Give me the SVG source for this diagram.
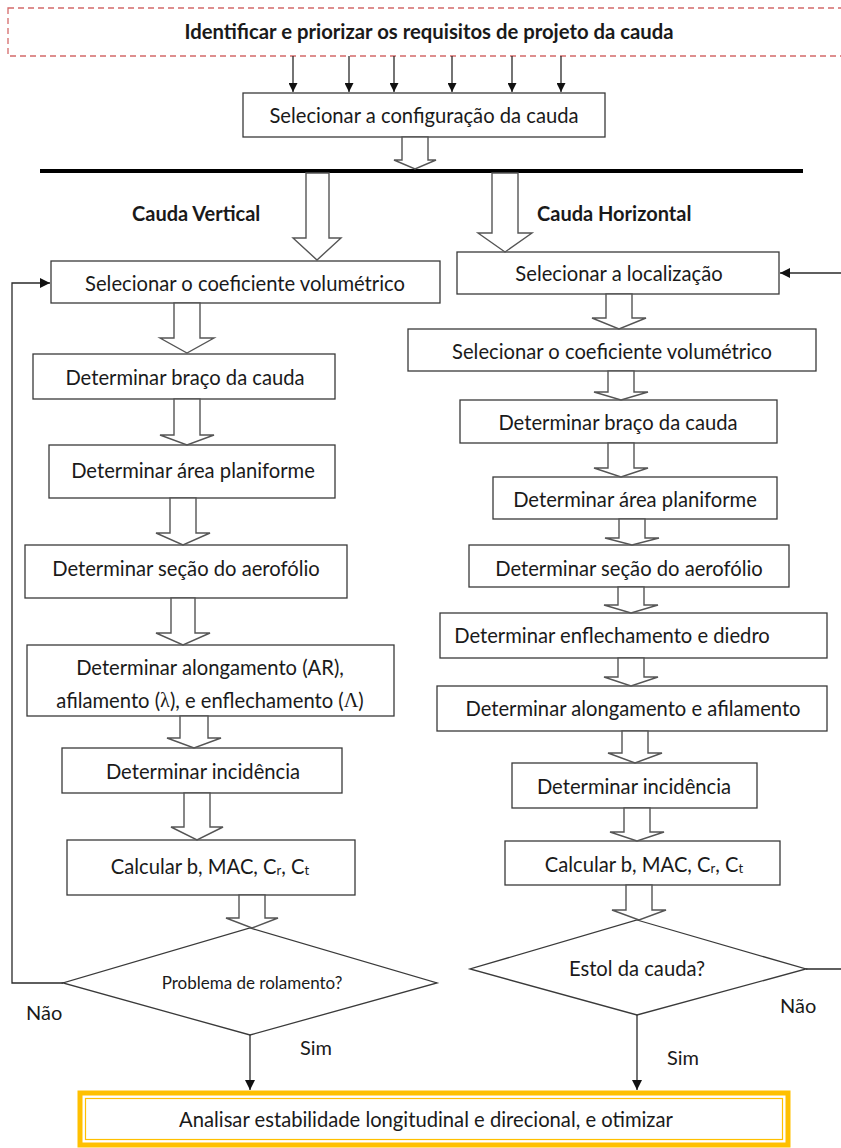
<svg xmlns="http://www.w3.org/2000/svg" width="841" height="1148" viewBox="0 0 841 1148">
  <style>
    text { font-family: Lato, "Liberation Sans", sans-serif; fill: #1a1a1a; }
    .t { font-size: 20.2px; text-anchor: middle; dominant-baseline: central; }
    .b { font-weight: bold; }
    .box { fill: #ffffff; stroke: #3a3a3a; stroke-width: 1.3; }
    .hollow { fill: #ffffff; stroke: #555555; stroke-width: 1.4; stroke-linejoin: miter; }
    .line { fill: none; stroke: #2a2a2a; stroke-width: 1.3; }
    .sym { font-family: "Liberation Serif", serif; }
    .sub { font-size: 13px; }
    .lbl { font-size: 20px; }
  </style>
  <defs>
    <marker id="ah" viewBox="0 0 10 10" refX="10" refY="5" markerWidth="9" markerHeight="9" markerUnits="userSpaceOnUse" orient="auto">
      <path d="M0,0 L10,5 L0,10 z" fill="#111111"/>
    </marker>
    <marker id="ahs" viewBox="0 0 10 10" refX="10" refY="5" markerWidth="10" markerHeight="12" markerUnits="userSpaceOnUse" orient="auto">
      <path d="M0,0 L10,5 L0,10 z" fill="#111111"/>
    </marker>
  </defs>
  <rect width="841" height="1148" fill="#ffffff"/>

  <!-- requirements banner -->
  <g id="requisitos">
    <rect x="8" y="8" width="845" height="48" fill="none" stroke="#d46a6a" stroke-width="1.3" stroke-dasharray="6,4"/>
    <text class="t b" x="429" y="31" style="font-size:20.3px">Identificar e priorizar os requisitos de projeto da cauda</text>
  </g>

  <g id="configuracao">
    <rect class="box" x="243" y="93" width="362" height="44"/>
    <text class="t" x="424" y="115">Selecionar a configuração da cauda</text>
  </g>

  <!-- split bar -->
  <g id="barra">
    <rect x="40" y="169" width="763" height="4" fill="#000000"/>
  </g>

  <g id="rotulos">
    <text class="b lbl" x="132" y="221">Cauda Vertical</text>
    <text class="b lbl" x="537" y="221">Cauda Horizontal</text>
  </g>

  <!-- vertical tail branch -->
  <g id="v1">
    <rect class="box" x="51" y="261" width="389" height="42"/>
    <text class="t" x="245" y="283">Selecionar o coeficiente volumétrico</text>
  </g>
  <g id="v2">
    <rect class="box" x="33" y="354" width="302" height="45"/>
    <text class="t" x="185" y="377">Determinar braço da cauda</text>
  </g>
  <g id="v3">
    <rect class="box" x="49" y="445" width="286" height="53"/>
    <text class="t" x="193" y="470">Determinar área planiforme</text>
  </g>
  <g id="v4">
    <rect class="box" x="25" y="545" width="322" height="53"/>
    <text class="t" x="186" y="568">Determinar seção do aerofólio</text>
  </g>
  <g id="v5">
    <rect class="box" x="27" y="645" width="367" height="71"/>
    <text class="t" x="210" y="667">Determinar alongamento (AR),</text>
    <text class="t" x="210" y="700">afilamento (<tspan class="sym">λ</tspan>), e enflechamento (<tspan class="sym">Λ</tspan>)</text>
  </g>
  <g id="v6">
    <rect class="box" x="62" y="748" width="280" height="45"/>
    <text class="t" x="203" y="771">Determinar incidência</text>
  </g>
  <g id="v7">
    <rect class="box" x="67" y="840" width="288" height="55"/>
    <text class="t" x="210" y="866">Calcular b, MAC, C<tspan class="sub" dy="4">r</tspan><tspan dy="-4">, C</tspan><tspan class="sub" dy="4">t</tspan></text>
  </g>
  <g id="v-decisao">
    <polygon class="box" points="250,928 437,983 250,1035 63,983"/>
    <text class="t" x="252" y="982" style="font-size:17px">Problema de rolamento?</text>
  </g>

  <!-- horizontal tail branch -->
  <g id="h1">
    <rect class="box" x="457" y="252" width="322" height="42"/>
    <text class="t" x="619" y="273">Selecionar a localização</text>
  </g>
  <g id="h2">
    <rect class="box" x="408" y="329" width="408" height="42"/>
    <text class="t" x="612" y="351">Selecionar o coeficiente volumétrico</text>
  </g>
  <g id="h3">
    <rect class="box" x="460" y="400" width="317" height="43"/>
    <text class="t" x="618" y="422">Determinar braço da cauda</text>
  </g>
  <g id="h4">
    <rect class="box" x="493" y="477" width="284" height="42"/>
    <text class="t" x="635" y="499">Determinar área planiforme</text>
  </g>
  <g id="h5">
    <rect class="box" x="469" y="545" width="320" height="42"/>
    <text class="t" x="629" y="568">Determinar seção do aerofólio</text>
  </g>
  <g id="h6">
    <rect class="box" x="440" y="613" width="387" height="45"/>
    <text class="t" x="612" y="635">Determinar enflechamento e diedro</text>
  </g>
  <g id="h7">
    <rect class="box" x="437" y="686" width="390" height="45"/>
    <text class="t" x="633" y="708">Determinar alongamento e afilamento</text>
  </g>
  <g id="h8">
    <rect class="box" x="512" y="763" width="245" height="45"/>
    <text class="t" x="634" y="786">Determinar incidência</text>
  </g>
  <g id="h9">
    <rect class="box" x="505" y="841" width="275" height="44"/>
    <text class="t" x="644" y="864">Calcular b, MAC, C<tspan class="sub" dy="4">r</tspan><tspan dy="-4">, C</tspan><tspan class="sub" dy="4">t</tspan></text>
  </g>
  <g id="h-decisao">
    <polygon class="box" points="637,920 806,969 637,1015 470,969"/>
    <text class="t" x="637" y="968">Estol da cauda?</text>
  </g>

  <!-- final step -->
  <g id="analise">
    <rect x="80" y="1093" width="708" height="52" fill="#ffffff" stroke="#ffc000" stroke-width="5"/>
    <rect x="85.5" y="1098.5" width="697" height="41" fill="none" stroke="#ffc000" stroke-width="1.2"/>
    <text class="t" x="426" y="1119">Analisar estabilidade longitudinal e direcional, e otimizar</text>
  </g>

  <!-- connectors -->
  <g id="conectores">
    <!-- requirement feeds -->
    <line class="line" x1="293" y1="56" x2="293" y2="92" marker-end="url(#ah)"/>
    <line class="line" x1="349" y1="56" x2="349" y2="92" marker-end="url(#ah)"/>
    <line class="line" x1="394" y1="56" x2="394" y2="92" marker-end="url(#ah)"/>
    <line class="line" x1="452" y1="56" x2="452" y2="92" marker-end="url(#ah)"/>
    <line class="line" x1="512" y1="56" x2="512" y2="92" marker-end="url(#ah)"/>
    <line class="line" x1="561" y1="56" x2="561" y2="92" marker-end="url(#ah)"/>

    <!-- block arrows -->
    <polygon class="hollow" points="402,137 428,137 428,160 436,160 415,169 394,160 402,160"/>
    <polygon class="hollow" points="306,173 329,173 329,238 341,238 317,260 293,238 306,238"/>
    <polygon class="hollow" points="492,173 518,173 518,233 532,233 505,252 478,233 492,233"/>

    <polygon class="hollow" points="174,303 200,303 200,338 214,338 187,353 160,338 174,338"/>
    <polygon class="hollow" points="174,399 200,399 200,435 214,435 187,445 160,435 174,435"/>
    <polygon class="hollow" points="170,498 196,498 196,533 210,533 183,545 156,533 170,533"/>
    <polygon class="hollow" points="171,598 195,598 195,633 210,633 183,645 156,633 171,633"/>
    <polygon class="hollow" points="180,716 208,716 208,738 221,738 194,748 167,738 180,738"/>
    <polygon class="hollow" points="184,793 210,793 210,827 223,827 197,840 171,827 184,827"/>
    <polygon class="hollow" points="239,895 265,895 265,918 278,918 252,928 226,918 239,918"/>

    <polygon class="hollow" points="606,294 632,294 632,318 646,318 619,329 592,318 606,318"/>
    <polygon class="hollow" points="608,371 634,371 634,392 648,392 621,400 594,392 608,392"/>
    <polygon class="hollow" points="608,443 634,443 634,468 648,468 621,477 594,468 608,468"/>
    <polygon class="hollow" points="619,519 645,519 645,538 659,538 632,545 605,538 619,538"/>
    <polygon class="hollow" points="618,587 644,587 644,605 658,605 631,613 604,605 618,605"/>
    <polygon class="hollow" points="618,658 644,658 644,677 658,677 631,686 604,677 618,677"/>
    <polygon class="hollow" points="622,731 648,731 648,753 662,753 635,763 608,753 622,753"/>
    <polygon class="hollow" points="624,808 650,808 650,832 664,832 637,841 610,832 624,832"/>
    <polygon class="hollow" points="626,885 652,885 652,910 666,910 639,920 612,910 626,910"/>

    <!-- vertical tail loop back -->
    <polyline class="line" points="63,983 12,983 12,283 50,283" marker-end="url(#ahs)"/>
    <!-- horizontal tail loop back -->
    <line class="line" x1="806" y1="969" x2="841" y2="969"/>
    <line class="line" x1="841" y1="273" x2="780" y2="273" marker-end="url(#ahs)"/>

    <!-- to final step -->
    <line class="line" x1="250" y1="1035" x2="250" y2="1090" marker-end="url(#ahs)"/>
    <line class="line" x1="637" y1="1015" x2="637" y2="1090" marker-end="url(#ahs)"/>

    <text class="lbl" x="26" y="1020">Não</text>
    <text class="lbl" x="300" y="1055">Sim</text>
    <text class="lbl" x="780" y="1013">Não</text>
    <text class="lbl" x="667" y="1065">Sim</text>
  </g>
</svg>
